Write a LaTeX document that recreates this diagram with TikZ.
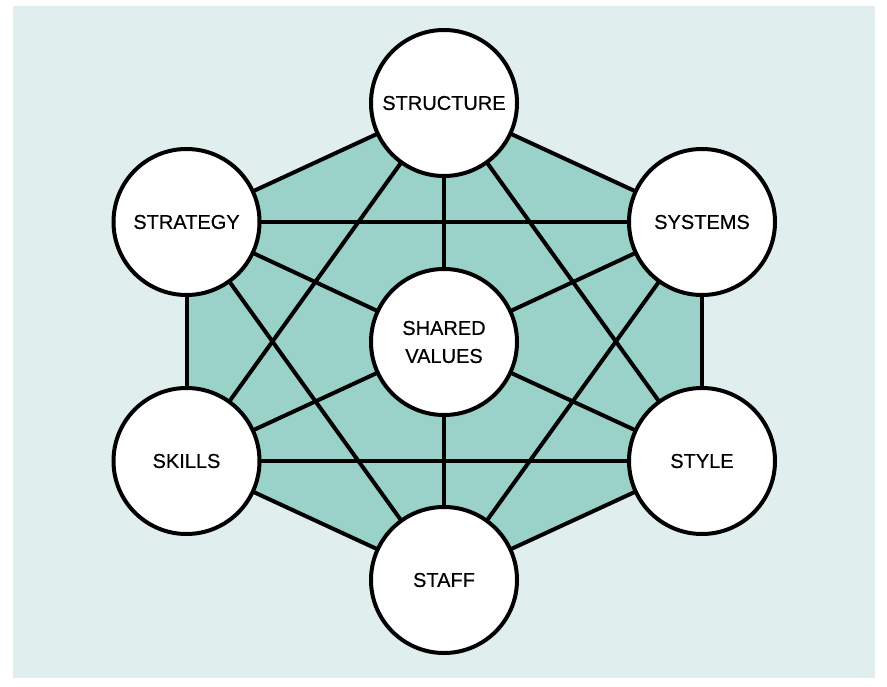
\documentclass[tikz,border=0pt]{standalone}
\usepackage{fontspec}
\setmainfont{Liberation Sans}
\newfontfamily\labelfont{Liberation Sans}[FakeBold=0.5]
\usetikzlibrary{backgrounds}
\definecolor{bgcol}{HTML}{E1EEEE}
\definecolor{hexcol}{HTML}{9AD1C9}
\tikzset{
  sphere/.style={circle, draw=black, line width=4bp, fill=white, minimum size=146bp, inner sep=0pt, align=center, font=\labelfont\fontsize{20bp}{28bp}\selectfont},
  link/.style={draw=black, line width=4bp},
}
\begin{document}
\begin{tikzpicture}[x=1bp, y=-1bp]
\useasboundingbox (0,0) rectangle (887,687);
\node[sphere] (structure) at (444,103) {STRUCTURE};
\node[sphere] (strategy) at (186.5,222) {STRATEGY};
\node[sphere] (systems) at (702,222) {SYSTEMS};
\node[sphere] (shared) at (444,342) {SHARED\\VALUES};
\node[sphere] (skills) at (186.5,461) {SKILLS};
\node[sphere] (style) at (702,461) {STYLE};
\node[sphere] (staff) at (444,580) {STAFF};
\begin{scope}[on background layer]
  \fill[bgcol] (13,6) rectangle (875,678);
  \fill[hexcol] (structure.center) -- (systems.center) -- (style.center) -- (staff.center) -- (skills.center) -- (strategy.center) -- cycle;
  % hexagon edges
  \path[link] (structure.center) -- (systems.center);
  \path[link] (systems.center) -- (style.center);
  \path[link] (style.center) -- (staff.center);
  \path[link] (staff.center) -- (skills.center);
  \path[link] (skills.center) -- (strategy.center);
  \path[link] (strategy.center) -- (structure.center);
  % spokes
  \path[link] (shared.center) -- (structure.center);
  \path[link] (shared.center) -- (systems.center);
  \path[link] (shared.center) -- (style.center);
  \path[link] (shared.center) -- (staff.center);
  \path[link] (shared.center) -- (skills.center);
  \path[link] (shared.center) -- (strategy.center);
  % chords
  \path[link] (structure.center) -- (skills.center);
  \path[link] (structure.center) -- (style.center);
  \path[link] (strategy.center) -- (systems.center);
  \path[link] (strategy.center) -- (staff.center);
  \path[link] (systems.center) -- (staff.center);
  \path[link] (skills.center) -- (style.center);
\end{scope}
\end{tikzpicture}
\end{document}
